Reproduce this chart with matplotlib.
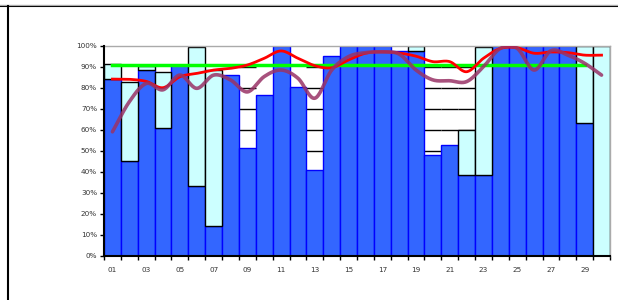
import numpy as np
import matplotlib
matplotlib.use("Agg")
import matplotlib.pyplot as plt
from matplotlib.lines import Line2D

days = [f"{i:02d}" for i in range(1, 31)]
blue_vals = [84.3, 45, 88.4, 60.6, 90.8, 33.1, 14.1, 85.9, 51.5, 76.4,
             99.7, 80.3, 41, 95, 100, 100, 100, 97.5, 97.5, 48,
             52.7, 38.4, 38.4, 100, 100, 100, 100, 100, 63, 0]
cyan_tops = [91.5, 82.6, 90.5, 87.6, None, 99.5, 88.6, None, None, None,
             None, None, None, None, None, None, None, None, 100, None,
             None, 59.8, 99.5, None, None, None, None, None, 100, 100]
red_vals = [84.1, 84, 83, 80, 85.2, 86.8, 88.4, 89.2, 90.8, 94,
            97.5, 94, 90.5, 89.5, 93.2, 96.4, 97.1, 96.5, 95, 92.4,
            92.4, 87.6, 94, 98.7, 99, 96.4, 97, 96.7, 95.5, 95.5]
purple_vals = [59, 73.3, 82, 79, 86, 79.7, 86, 83.7, 78, 85.3,
               88.4, 84.5, 75, 88.4, 94.8, 96.7, 97, 96, 88.4, 83.7,
               83.3, 82.9, 90, 98.7, 98.7, 88.4, 97.6, 95.5, 91.6, 86]
target = 91
target_days = 29
grid_cols = [9, 13, 20, 21, 22]
y_ticks = list(range(0, 101, 10))


def smooth(x, y, n=20):
    x = np.asarray(x, float)
    y = np.asarray(y, float)
    px = np.concatenate([[2 * x[0] - x[1]], x, [2 * x[-1] - x[-2]]])
    py = np.concatenate([[2 * y[0] - y[1]], y, [2 * y[-1] - y[-2]]])
    xs, ys = [], []
    t = np.linspace(0, 1, n, endpoint=False)
    for i in range(1, len(px) - 2):
        p0, p1, p2, p3 = py[i - 1], py[i], py[i + 1], py[i + 2]
        q0, q1, q2, q3 = px[i - 1], px[i], px[i + 1], px[i + 2]
        def cr(a0, a1, a2, a3):
            return 0.5 * ((2 * a1) + (-a0 + a2) * t + (2 * a0 - 5 * a1 + 4 * a2 - a3) * t ** 2
                          + (-a0 + 3 * a1 - 3 * a2 + a3) * t ** 3)
        xs.append(cr(q0, q1, q2, q3))
        ys.append(cr(p0, p1, p2, p3))
    xs.append([x[-1]])
    ys.append([y[-1]])
    return np.concatenate(xs), np.concatenate(ys)


fig = plt.figure(figsize=(6.18, 3.0), dpi=100)
ax = fig.add_axes([0.1683, 0.1477, 0.8187, 0.70])

x = np.arange(len(days))
blue = np.array(blue_vals, float)
ax.bar(x, blue, width=1.0, color="#3366FF", edgecolor="#0000FF", linewidth=1.0, zorder=2)

cx = [i for i, c in enumerate(cyan_tops) if c is not None]
cb = [blue[i] for i in cx]
ch = [cyan_tops[i] - blue[i] for i in cx]
ax.bar(cx, ch, bottom=cb, width=1.0, color="#CCFFFF", edgecolor="black", linewidth=1.0, zorder=2)

# gridlines visible only in some columns
for c in grid_cols:
    i = c - 1
    top = blue[i] if cyan_tops[i] is None else max(blue[i], cyan_tops[i])
    for lv in y_ticks:
        if top < lv < 100:
            ax.hlines(lv, i - 0.5, i + 0.5, color="black", linewidth=1.0, zorder=1.5)

ax.plot([0, target_days - 1], [target, target], color="#00FF00", linewidth=2.5, zorder=3)
rx, ry = smooth(x, red_vals)
ax.plot(rx, ry, color="#FF0000", linewidth=2.0, zorder=4)
px_, py_ = smooth(x, purple_vals)
ax.plot(px_, py_, color="#993366", linewidth=2.6, alpha=0.85, zorder=5, solid_capstyle="round")

ax.set_xlim(-0.5, len(days) - 0.5)
ax.set_ylim(0, 100)
ax.set_yticks(y_ticks)
ax.set_yticklabels([f"{v}%" for v in y_ticks], fontsize=5.2, color="#333333")
ax.set_xticks(np.arange(len(days) + 1) - 0.5)
ax.set_xticklabels([])
ax.set_xticks(x[::2], minor=True)
ax.set_xticklabels(days[::2], minor=True, fontsize=5.2, color="#333333")
ax.tick_params(axis="x", which="major", length=3, width=1, direction="out")
ax.tick_params(axis="x", which="minor", length=0, pad=8)
ax.tick_params(axis="y", length=3, width=1, direction="out", pad=2)

for s in ["left", "bottom"]:
    ax.spines[s].set_color("black")
    ax.spines[s].set_linewidth(1.5)
for s in ["top", "right"]:
    ax.spines[s].set_color("#AAAAAA")
    ax.spines[s].set_linewidth(1.0)
ax.spines["left"].set_zorder(6)

# outer frame lines (top and left)
fig.add_artist(Line2D([0, 1], [1 - 6.0 / 300, 1 - 6.0 / 300], color="black", linewidth=1.5,
                      transform=fig.transFigure))
fig.add_artist(Line2D([0, 1], [1 - 4.5 / 300, 1 - 4.5 / 300], color="#AAAAAA", linewidth=0.8,
                      transform=fig.transFigure))
fig.add_artist(Line2D([7.5 / 618, 7.5 / 618], [0, 1 - 6.0 / 300], color="black", linewidth=1.5,
                      transform=fig.transFigure))

fig.savefig("out.png", dpi=100)
